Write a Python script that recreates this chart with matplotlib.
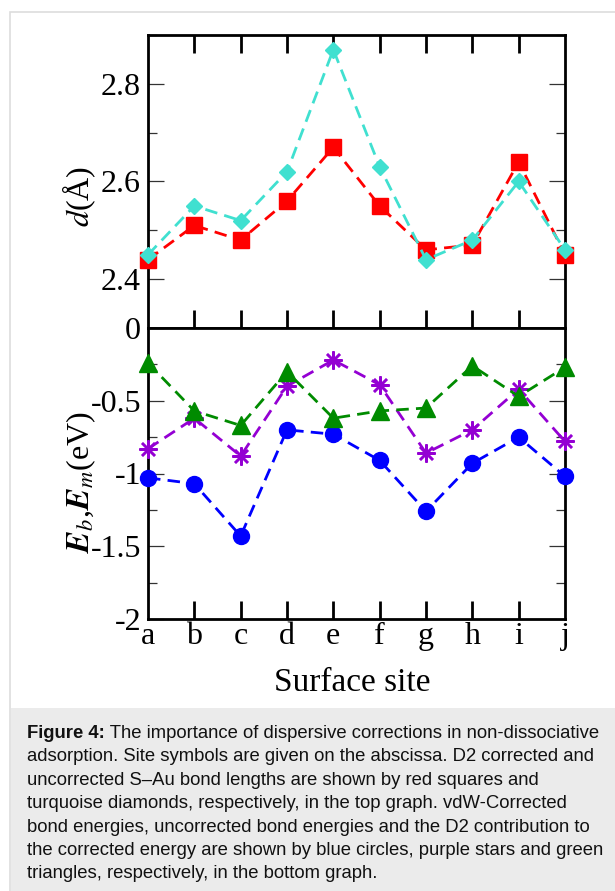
import matplotlib
matplotlib.use("Agg")
import matplotlib.pyplot as plt
from matplotlib.patches import Rectangle
from matplotlib.ticker import MultipleLocator, FuncFormatter, FixedLocator

# surface sites on the abscissa
sites = ["a", "b", "c", "d", "e", "f", "g", "h", "i", "j"]

# S-Au bond lengths (Angstrom), top graph
d_corrected = [2.44, 2.51, 2.48, 2.56, 2.67, 2.55, 2.46, 2.47, 2.64, 2.45]
d_uncorrected = [2.45, 2.55, 2.52, 2.62, 2.87, 2.63, 2.44, 2.48, 2.60, 2.46]

# energies (eV), bottom graph
e_corrected = [-1.03, -1.07, -1.43, -0.70, -0.73, -0.91, -1.26, -0.93, -0.75, -1.02]
e_uncorrected = [-0.83, -0.62, -0.88, -0.40, -0.22, -0.39, -0.86, -0.70, -0.42, -0.78]
e_d2 = [-0.24, -0.57, -0.67, -0.30, -0.62, -0.57, -0.55, -0.26, -0.47, -0.27]

caption_head = "Figure 4:"
caption_first = " The importance of dispersive corrections in non-dissociative"
caption_lines = [
    "adsorption. Site symbols are given on the abscissa. D2 corrected and",
    "uncorrected S\u2013Au bond lengths are shown by red squares and",
    "turquoise diamonds, respectively, in the top graph. vdW-Corrected",
    "bond energies, uncorrected bond energies and the D2 contribution to",
    "the corrected energy are shown by blue circles, purple stars and green",
    "triangles, respectively, in the bottom graph.",
]

plt.rcParams["font.family"] = "Liberation Serif"
plt.rcParams["mathtext.fontset"] = "stix"
plt.rcParams["axes.unicode_minus"] = False

W, H = 615, 891
fig = plt.figure(figsize=(W / 100, H / 100), dpi=100)

def fx(px):
    return px / W

def fy(py):
    return 1 - py / H

# page frame and caption box
fig.patches.append(Rectangle((fx(10), -0.01), 1, fy(12) + 0.01, transform=fig.transFigure,
                             facecolor="white", edgecolor="#dddddd", lw=1.2, zorder=-10))
fig.patches.append(Rectangle((fx(10.6), 0), 1, fy(708), transform=fig.transFigure,
                             facecolor="#ebebeb", edgecolor="none", zorder=-9))

left, right = fx(148), fx(565)
ax1 = fig.add_axes([left, fy(328), right - left, fy(35) - fy(328)])
ax2 = fig.add_axes([left, fy(619), right - left, fy(328) - fy(619)])

x = list(range(len(sites)))
dash = (4.5, 2.6)
lw = 2.0

ax1.plot(x, d_corrected, color="#ff0000", lw=lw, dashes=dash, marker="s", ms=11.5,
         clip_on=False, zorder=3)
ax1.plot(x, d_uncorrected, color="#40e0d0", lw=lw, dashes=dash, marker="D", ms=8.5,
         clip_on=False, zorder=4)

ax2.plot(x, e_corrected, color="#0000ff", lw=lw, dashes=dash, marker="o", ms=11.5,
         clip_on=False, zorder=3)
ax2.plot(x, e_uncorrected, color="#9400d3", lw=lw, dashes=dash, marker=(8, 2, 0), ms=13,
         mew=1.8, clip_on=False, zorder=4)
ax2.plot(x, e_d2, color="#008b00", lw=lw, dashes=dash, marker="^", ms=12.5,
         clip_on=False, zorder=5)

ax1.set_xlim(0, 9)
ax2.set_xlim(0, 9)
ax1.set_ylim(2.3, 2.9)
ax2.set_ylim(-2, 0)

for ax in (ax1, ax2):
    for s in ax.spines.values():
        s.set_linewidth(2)
    ax.tick_params(axis="x", which="major", direction="in", length=13, width=2)
    ax.tick_params(axis="y", which="major", direction="in", length=11.5, width=0.9,
                   left=True, right=True, labelsize=23, pad=5, color="#333333")
    ax.tick_params(axis="y", which="minor", direction="in", length=6.5, width=0.9,
                   left=True, right=True, color="#333333")

ax1.xaxis.set_major_locator(FixedLocator(x[1:-1]))
ax1.tick_params(axis="x", top=True, bottom=True, labelbottom=False)
ax1.yaxis.set_major_locator(FixedLocator([2.4, 2.6, 2.8]))
ax1.yaxis.set_minor_locator(MultipleLocator(0.1))
ax1.yaxis.set_major_formatter(FuncFormatter(lambda v, p: f"{v:.1f}"))

ax2.tick_params(axis="x", top=False, bottom=True)
ax2.set_xticks(x)
ax2.set_xticklabels(sites, fontsize=23)
ax2.tick_params(axis="x", pad=2)
ax2.xaxis.get_major_ticks()[0].tick1line.set_visible(False)
ax2.xaxis.get_major_ticks()[-1].tick1line.set_visible(False)
ax2.yaxis.set_major_locator(MultipleLocator(0.5))
ax2.yaxis.set_minor_locator(MultipleLocator(0.25))
ax2.yaxis.set_major_formatter(FuncFormatter(lambda v, p: f"{v:g}"))

ax1.set_ylabel(r"$d$(Å)", fontsize=23)
ax1.yaxis.set_label_coords(-0.12, 0.45)
ax2.set_ylabel(r"$\mathbfit{E}_b$,$\mathbfit{E}_m$(eV)", fontsize=23)
ax2.yaxis.set_label_coords(-0.12, 0.47)
ax2.set_xlabel("Surface site", fontsize=24)
ax2.xaxis.set_label_coords(0.49, -0.165)

# caption
cap_kw = dict(family="Liberation Sans", fontsize=13.3, va="baseline", color="#111111")
head = fig.text(fx(27), fy(738), caption_head, fontweight="bold", **cap_kw)
fig.canvas.draw()
bb = head.get_window_extent().transformed(fig.transFigure.inverted())
fig.text(bb.x1, fy(738), caption_first, **cap_kw)
for i, line in enumerate(caption_lines):
    fig.text(fx(27), fy(738 + 23.4 * (i + 1)), line, **cap_kw)

fig.savefig("out.png", dpi=100)
